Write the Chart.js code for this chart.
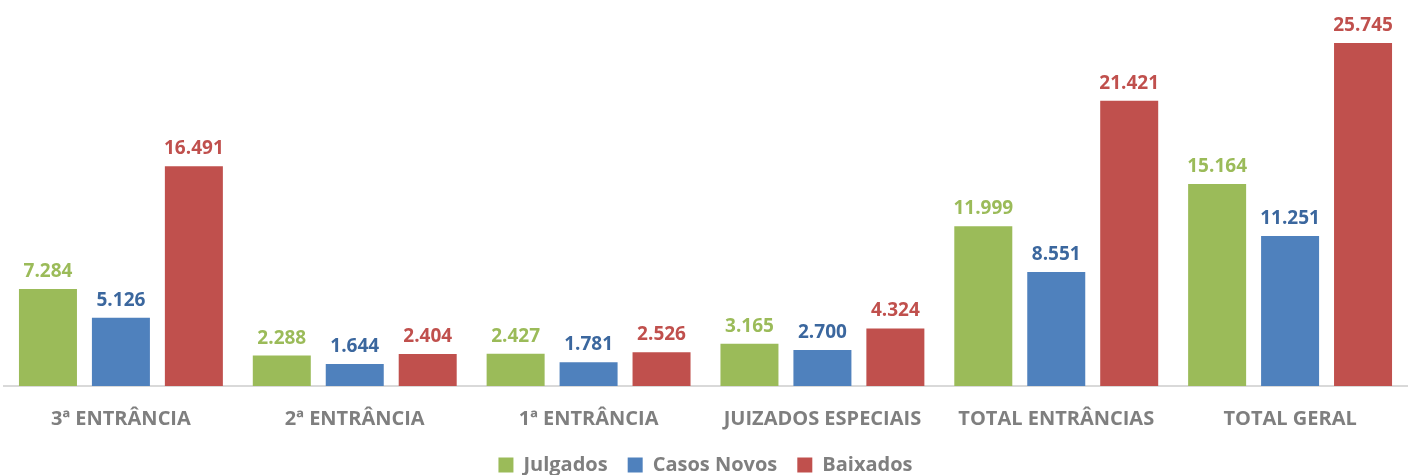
<!DOCTYPE html>
<html>
<head>
<meta charset="utf-8">
<script src="https://cdn.jsdelivr.net/npm/chart.js@4.4.1/dist/chart.umd.min.js"></script>
<style>
  html, body { margin: 0; padding: 0; background: #fff; }
  #wrap { width: 1413px; height: 475px; position: relative; }
</style>
</head>
<body>
<div id="wrap"><canvas id="chart"></canvas></div>
<script>
// dados do gráfico
const categorias = ['3ª ENTRÂNCIA', '2ª ENTRÂNCIA', '1ª ENTRÂNCIA', 'JUIZADOS ESPECIAIS', 'TOTAL ENTRÂNCIAS', 'TOTAL GERAL'];
const julgados = [7284, 2288, 2427, 3165, 11999, 15164];
const casosNovos = [5126, 1644, 1781, 2700, 8551, 11251];
const baixados = [16491, 2404, 2526, 4324, 21421, 25745];

const corLabel = ['#9BBB59', '#3B679E', '#C0504D'];
const fonte = '"Open Sans", Lato, sans-serif';

function formata(v) {
  return String(v).replace(/\B(?=(\d{3})+(?!\d))/g, '.');
}

// plugin simples para escrever os valores em cima das barras
const rotulos = {
  id: 'rotulos',
  afterDatasetsDraw(chart) {
    const ctx = chart.ctx;
    ctx.save();
    ctx.font = 'bold 19px ' + fonte;
    ctx.textAlign = 'center';
    ctx.textBaseline = 'alphabetic';
    chart.data.datasets.forEach((ds, i) => {
      const meta = chart.getDatasetMeta(i);
      ctx.fillStyle = corLabel[i];
      meta.data.forEach((bar, j) => {
        ctx.fillText(formata(ds.data[j]), bar.x, bar.y - 12);
      });
    });
    ctx.restore();
  }
};

const ctx = document.getElementById('chart').getContext('2d');
new Chart(ctx, {
  type: 'bar',
  data: {
    labels: categorias,
    datasets: [
      { label: 'Julgados', data: julgados, backgroundColor: '#9BBB59' },
      { label: 'Casos Novos', data: casosNovos, backgroundColor: '#4F81BD' },
      { label: 'Baixados', data: baixados, backgroundColor: '#C0504D' }
    ]
  },
  options: {
    responsive: true,
    maintainAspectRatio: false,
    animation: false,
    categoryPercentage: 0.936,
    barPercentage: 0.795,
    layout: { padding: { left: 4, right: 6, top: 13, bottom: -10 } },
    plugins: {
      tooltip: { enabled: false },
      legend: {
        position: 'bottom',
        labels: {
          boxWidth: 15,
          boxHeight: 15,
          padding: 20,
          color: '#7F7F7F',
          font: { family: fonte, size: 20, weight: 'bold' }
        }
      }
    },
    scales: {
      x: {
        grid: { display: false },
        border: { display: true, color: '#D9D9D9', width: 2 },
        afterFit(scale) { scale.height -= 9; },
        ticks: {
          padding: 13,
          color: '#7F7F7F',
          font: { family: fonte, size: 20, weight: 'bold' }
        }
      },
      y: {
        display: false,
        min: 0,
        max: 28000
      }
    }
  },
  plugins: [rotulos]
});
</script>
</body>
</html>
